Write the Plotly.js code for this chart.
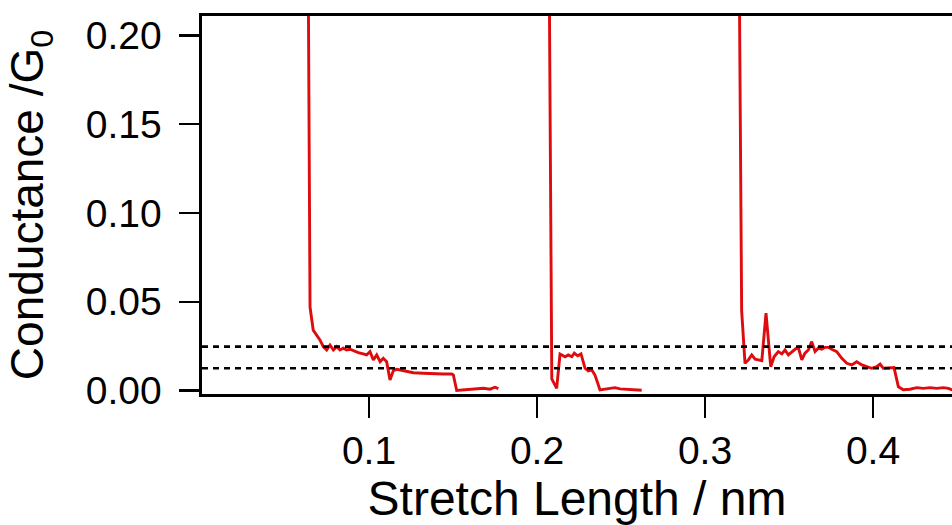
<!DOCTYPE html>
<html>
<head>
<meta charset="utf-8">
<script src="https://cdn.plot.ly/plotly-3.0.1.min.js"></script>
<style>
  html, body { margin: 0; padding: 0; background: #ffffff; }
  #chart { width: 952px; height: 525px; }
</style>
</head>
<body>
<div id="chart"></div>
<script>
// Trace 1
var x1 = [0.0637, 0.0643, 0.0649, 0.0668, 0.0689, 0.0708, 0.0728, 0.0748, 0.0768, 0.0788, 0.0808, 0.0827, 0.0847, 0.0867, 0.0887, 0.0907, 0.0936, 0.0966, 0.0986, 0.1006, 0.1026, 0.1046, 0.1066, 0.1085, 0.1105, 0.1125, 0.1145, 0.1165, 0.1195, 0.1224, 0.1264, 0.1323, 0.1383, 0.1442, 0.1492, 0.1502, 0.1522, 0.1561, 0.1601, 0.1641, 0.1680, 0.1720, 0.1750, 0.1770];
var y1 = [0.26, 0.12, 0.047, 0.034, 0.031, 0.0285, 0.0247, 0.0228, 0.0256, 0.0228, 0.0247, 0.0228, 0.0238, 0.0228, 0.0232, 0.0224, 0.0213, 0.0206, 0.0200, 0.0219, 0.0172, 0.0200, 0.0162, 0.0181, 0.0162, 0.0059, 0.0112, 0.0119, 0.0112, 0.0106, 0.0100, 0.0097, 0.0093, 0.0093, 0.0093, 0.0087, 0.0000, 0.0003, 0.0007, 0.0007, 0.0012, 0.0007, 0.0018, 0.0010];
// Trace 2
var x2 = [0.2071, 0.2083, 0.2088, 0.2117, 0.2137, 0.2167, 0.2186, 0.2207, 0.2222, 0.2242, 0.2262, 0.2286, 0.2305, 0.2326, 0.2345, 0.2375, 0.2405, 0.2435, 0.2464, 0.2494, 0.2524, 0.2564, 0.2603, 0.2623];
var y2 = [0.26, 0.05, 0.0065, 0.0012, 0.0205, 0.0190, 0.0200, 0.0190, 0.0210, 0.0195, 0.0206, 0.0125, 0.0110, 0.0116, 0.0087, 0.0003, 0.0007, 0.0008, 0.0016, 0.0009, 0.0007, 0.0003, 0.0000, 0.0001];
// Trace 3
var x3 = [0.3202, 0.3212, 0.3218, 0.3238, 0.3258, 0.3278, 0.3298, 0.3317, 0.3338, 0.3363, 0.3377, 0.3391, 0.3411, 0.3436, 0.3457, 0.3476, 0.3496, 0.3516, 0.3536, 0.3555, 0.3576, 0.3595, 0.3615, 0.3635, 0.3655, 0.3674, 0.3695, 0.3714, 0.3734, 0.3754, 0.3784, 0.3814, 0.3844, 0.3873, 0.3903, 0.3933, 0.3963, 0.3992, 0.4022, 0.4042, 0.4061, 0.4091, 0.4125, 0.4151, 0.4180, 0.4220, 0.4260, 0.4299, 0.4339, 0.4379, 0.4419, 0.4448, 0.4470, 0.4500];
var y3 = [0.26, 0.10, 0.0450, 0.0153, 0.0172, 0.0200, 0.0176, 0.0172, 0.0168, 0.0435, 0.0303, 0.0134, 0.0190, 0.0219, 0.0206, 0.0228, 0.0200, 0.0219, 0.0232, 0.0243, 0.0172, 0.0210, 0.0228, 0.0275, 0.0219, 0.0238, 0.0232, 0.0243, 0.0243, 0.0232, 0.0219, 0.0181, 0.0153, 0.0144, 0.0162, 0.0144, 0.0134, 0.0125, 0.0134, 0.0149, 0.0125, 0.0125, 0.0129, 0.0021, 0.0004, 0.0007, 0.0016, 0.0012, 0.0016, 0.0012, 0.0016, 0.0012, 0.0004, 0.0008];

// Reference levels (dotted lines)
var levels = [0.0247, 0.0125];

// Tick labels
var xTickVals = [0.1, 0.2, 0.3, 0.4];
var xTickText = ["0.1", "0.2", "0.3", "0.4"];
var yTickVals = [0.00, 0.05, 0.10, 0.15, 0.20];
var yTickText = ["0.00", "0.05", "0.10", "0.15", "0.20"];

var FONT = "Liberation Sans, Arial, Helvetica, sans-serif";
var RED = "rgb(222,12,14)";

function seg(x, y) {
  return { x: x, y: y, type: "scatter", mode: "lines",
           line: { color: RED, width: 2.9 }, hoverinfo: "skip", showlegend: false };
}
var data = [seg(x1, y1), seg(x2, y2), seg(x3, y3)];

var shapes = levels.map(function (v) {
  return { type: "line", xref: "paper", x0: 0, x1: 1, yref: "y", y0: v, y1: v,
           line: { color: "#000000", width: 2.6, dash: "6px,5px" } };
});

var layout = {
  width: 952, height: 525,
  margin: { l: 202, r: 0, t: 16, b: 131, pad: 0 },
  paper_bgcolor: "#ffffff", plot_bgcolor: "#ffffff",
  showlegend: false,
  font: { family: FONT, color: "#000000" },
  shapes: shapes,
  xaxis: {
    range: [0.0006, 0.447],
    tickvals: xTickVals, ticktext: xTickText,
    ticks: "outside", ticklen: 21, tickwidth: 2.2, tickcolor: "#000000",
    showline: true, linewidth: 2.6, linecolor: "#000000", mirror: true,
    showgrid: false, zeroline: false,
    tickfont: { family: FONT, size: 39, color: "#000000" },
    title: { text: "Stretch Length / nm", font: { family: FONT, size: 48, color: "#000000" }, standoff: 0 }
  },
  yaxis: {
    range: [-0.002, 0.211],
    tickvals: yTickVals, ticktext: yTickText,
    ticks: "outside", ticklen: 20, tickwidth: 2.2, tickcolor: "#000000",
    showline: true, linewidth: 2.6, linecolor: "#000000", mirror: false,
    showgrid: false, zeroline: false,
    tickfont: { family: FONT, size: 39, color: "#000000" },
    ticklabelstandoff: 10,
    title: { text: "Conductance /G<sub>0</sub>", font: { family: FONT, size: 46, color: "#000000" }, standoff: 28 }
  }
};

Plotly.newPlot("chart", data, layout, { staticPlot: true, displayModeBar: false });
</script>
</body>
</html>
